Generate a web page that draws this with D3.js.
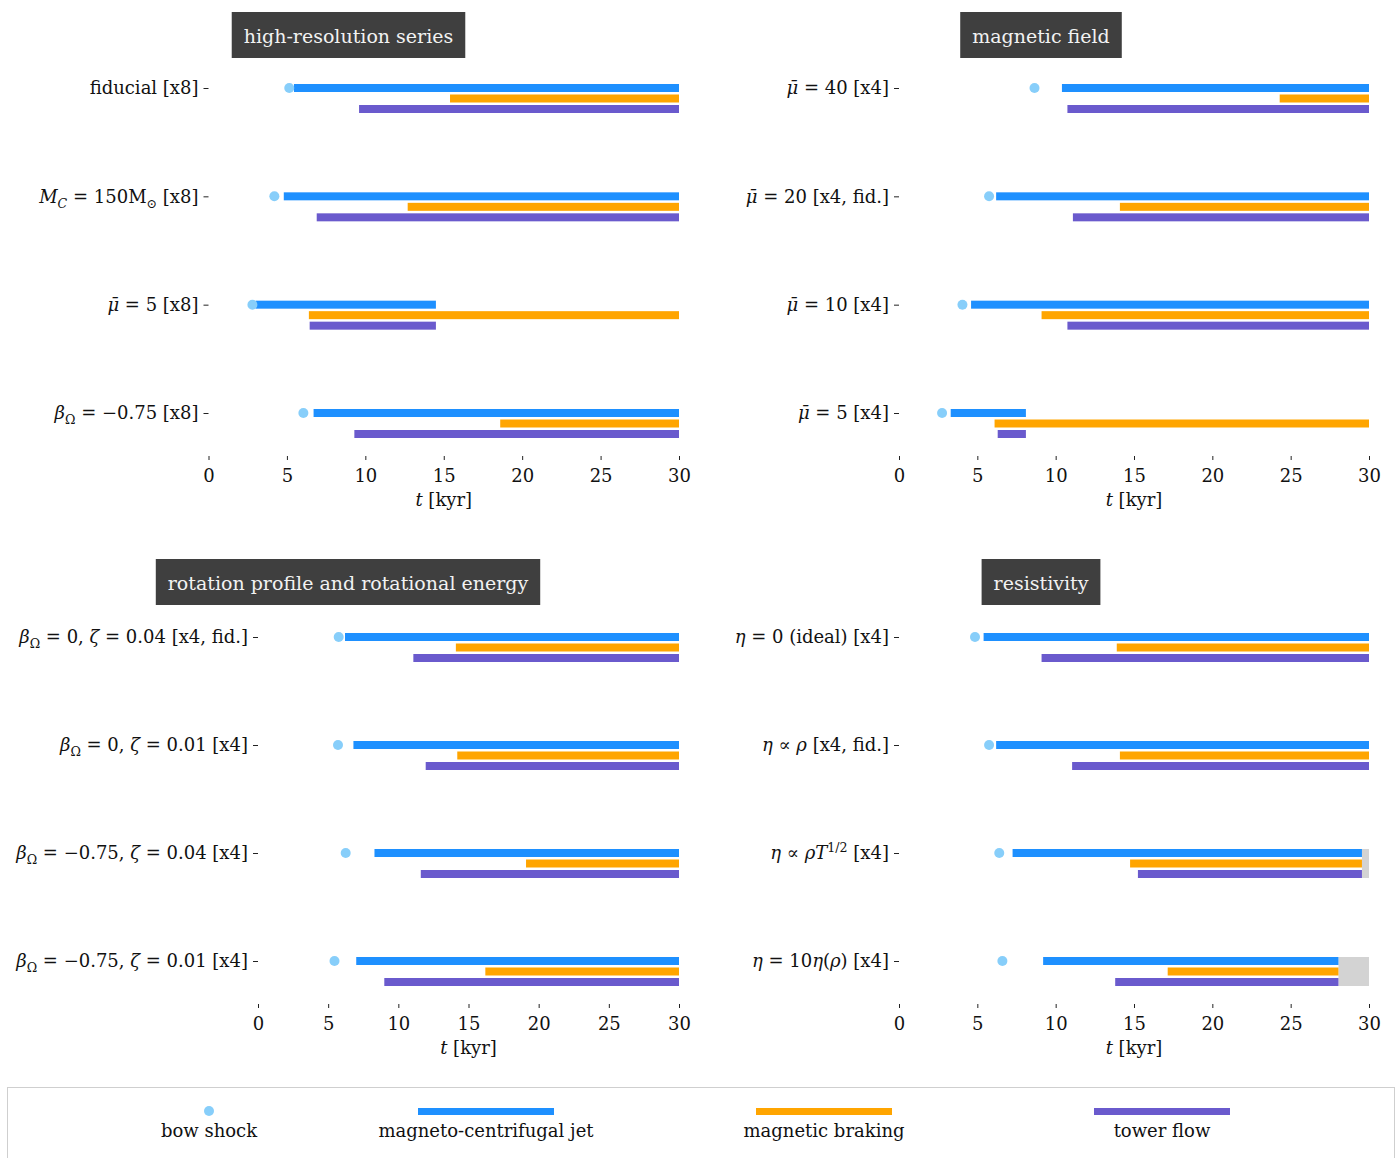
<!DOCTYPE html>
<html>
<head>
<meta charset="utf-8">
<script src="https://cdn.jsdelivr.net/npm/d3@7"></script>
<style>
  html, body { margin: 0; padding: 0; background: #fff; }
  svg { display: block; font-family: "DejaVu Serif", serif; }
</style>
</head>
<body>
<svg id="chart" width="1397" height="1158"></svg>
<script>
// ---- data -------------------------------------------------------------
const tickValues = [0, 5, 10, 15, 20, 25, 30];

const panelTitles = [
  "high-resolution series",
  "magnetic field",
  "rotation profile and rotational energy",
  "resistivity"
];

// run labels; *...* = italic, _{...} = subscript, ^{...} = superscript
const runLabels = [
  ["fiducial [x8]", "*M*_{*C*} = 150M_{⊙} [x8]", "*μ̄* = 5 [x8]", "*β*_{Ω} = −0.75 [x8]"],
  ["*μ̄* = 40 [x4]", "*μ̄* = 20 [x4, fid.]", "*μ̄* = 10 [x4]", "*μ̄* = 5 [x4]"],
  ["*β*_{Ω} = 0, *ζ* = 0.04 [x4, fid.]", "*β*_{Ω} = 0, *ζ* = 0.01 [x4]",
   "*β*_{Ω} = −0.75, *ζ* = 0.04 [x4]", "*β*_{Ω} = −0.75, *ζ* = 0.01 [x4]"],
  ["*η* = 0 (ideal) [x4]", "*η* ∝ *ρ* [x4, fid.]", "*η* ∝ *ρT*^{1/2} [x4]", "*η* = 10*η*(*ρ*) [x4]"]
];

// times in kyr
const bowShock      = [[5.15, 4.2, 2.8, 6.05], [8.65, 5.75, 4.05, 2.75], [5.75, 5.7, 6.25, 5.45], [4.85, 5.75, 6.4, 6.6]];
const jetStart      = [[5.45, 4.8, 3.0, 6.7],  [10.4, 6.2, 4.6, 3.3],    [6.2, 6.8, 8.3, 7.0],    [5.4, 6.2, 7.25, 9.2]];
const jetEnd        = [[30, 30, 14.5, 30],     [30, 30, 30, 8.1],        [30, 30, 30, 30],        [30, 30, 29.55, 28.05]];
const brakingStart  = [[15.4, 12.7, 6.4, 18.6],[24.3, 14.1, 9.1, 6.1],   [14.1, 14.2, 19.1, 16.2],[13.9, 14.1, 14.75, 17.15]];
const brakingEnd    = [[30, 30, 30, 30],       [30, 30, 30, 30],         [30, 30, 30, 30],        [30, 30, 29.55, 28.05]];
const towerStart    = [[9.6, 6.9, 6.45, 9.3],  [10.75, 11.1, 10.75, 6.3],[11.07, 11.95, 11.6, 9.0],[9.1, 11.05, 15.25, 13.8]];
const towerEnd      = [[30, 30, 14.5, 30],     [30, 30, 30, 8.1],        [30, 30, 30, 30],        [30, 30, 29.55, 28.05]];
const simulationEnd = [[30, 30, 30, 30],       [30, 30, 30, 30],         [30, 30, 30, 30],        [30, 30, 29.55, 28.05]];
const tMax = 30;

const seriesNames = ["bow shock", "magneto-centrifugal jet", "magnetic braking", "tower flow"];
const seriesColors = ["#87CEFA", "#1E90FF", "#FFA500", "#6A5ACD"];

// ---- layout -----------------------------------------------------------
const panels = [
  { x0: 208.5, x1: 679,  yTop: 88,  yBot: 413, axisY: 456,  titleCx: 348.5, titleY: 12 },
  { x0: 899,   x1: 1369, yTop: 88,  yBot: 413, axisY: 456,  titleCx: 1041,  titleY: 12 },
  { x0: 258,   x1: 679,  yTop: 637, yBot: 961, axisY: 1004, titleCx: 348,   titleY: 559 },
  { x0: 899,   x1: 1369, yTop: 637, yBot: 961, axisY: 1004, titleCx: 1041,  titleY: 559 }
];
const barH = 8;
const subOffset = d3.scalePoint().domain(["jet", "braking", "tower"]).range([0, 21]);

const svg = d3.select("#chart");

// rich label renderer
function richText(sel, str, baseSize) {
  sel.text(null);
  const re = /(_\{|\^\{|\}|\*)/g;
  let italic = false, shift = 0, small = false;
  let pending = 0; // dy to apply on next tspan
  let last = 0, m;
  const tokens = [];
  while ((m = re.exec(str)) !== null) {
    if (m.index > last) tokens.push({ t: "txt", v: str.slice(last, m.index) });
    tokens.push({ t: m[0] });
    last = re.lastIndex;
  }
  if (last < str.length) tokens.push({ t: "txt", v: str.slice(last) });
  const stack = [];
  tokens.forEach(tk => {
    if (tk.t === "*") { italic = !italic; return; }
    if (tk.t === "_{") { stack.push(5); pending += 5; small = true; return; }
    if (tk.t === "^{") { stack.push(-7); pending += -7; small = true; return; }
    if (tk.t === "}") { const s = stack.pop(); pending -= s; small = stack.length > 0; return; }
    const ts = sel.append("tspan").text(tk.v);
    if (italic) ts.attr("font-style", "italic");
    if (small) ts.attr("font-size", baseSize * 0.7);
    if (pending !== 0) { ts.attr("dy", pending); pending = 0; }
  });
  if (pending !== 0) sel.append("tspan").attr("dy", pending).text("");
}

panels.forEach((p, i) => {
  const x = d3.scaleLinear().domain([0, tMax]).range([p.x0, p.x1]);
  const rows = d3.range(runLabels[i].length);
  const y = d3.scalePoint().domain(rows).range([p.yTop, p.yBot]);
  const g = svg.append("g");

  // end-of-run shading
  g.selectAll("rect.end").data(rows.filter(r => simulationEnd[i][r] < tMax)).join("rect")
    .attr("x", r => x(simulationEnd[i][r]))
    .attr("width", r => x(tMax) - x(simulationEnd[i][r]))
    .attr("y", r => y(r) - barH / 2)
    .attr("height", subOffset("tower") + barH)
    .attr("fill", "#D3D3D3");

  const bars = [
    { key: "jet",     s: jetStart[i],     e: jetEnd[i],     c: seriesColors[1] },
    { key: "braking", s: brakingStart[i], e: brakingEnd[i], c: seriesColors[2] },
    { key: "tower",   s: towerStart[i],   e: towerEnd[i],   c: seriesColors[3] }
  ];
  bars.forEach(b => {
    g.selectAll(null).data(rows).join("rect")
      .attr("x", r => x(b.s[r]))
      .attr("width", r => x(b.e[r]) - x(b.s[r]))
      .attr("y", r => y(r) + subOffset(b.key) - barH / 2)
      .attr("height", barH)
      .attr("fill", b.c);
  });

  g.selectAll(null).data(rows).join("circle")
    .attr("cx", r => x(bowShock[i][r]))
    .attr("cy", r => y(r))
    .attr("r", 5)
    .attr("fill", seriesColors[0]);

  // y axis
  const ya = svg.append("g").attr("transform", `translate(${p.x0},0)`)
    .call(d3.axisLeft(y).tickSize(5).tickPadding(5).tickFormat(() => ""));
  ya.select(".domain").remove();
  ya.selectAll(".tick line").attr("stroke", "#222");
  ya.selectAll(".tick text")
    .attr("font-size", 18).attr("font-family", "DejaVu Serif").attr("fill", "#111")
    .each(function (r) { richText(d3.select(this), runLabels[i][r], 18); });

  // x axis
  const xa = svg.append("g").attr("transform", `translate(0,${p.axisY})`)
    .call(d3.axisBottom(x).tickValues(tickValues).tickSize(4).tickPadding(9));
  xa.select(".domain").remove();
  xa.selectAll(".tick line").attr("stroke", "#222");
  xa.selectAll(".tick text").attr("font-size", 18).attr("font-family", "DejaVu Serif").attr("fill", "#111");

  const xl = svg.append("text")
    .attr("x", (p.x0 + p.x1) / 2).attr("y", p.axisY + 50)
    .attr("text-anchor", "middle").attr("font-size", 18).attr("fill", "#111");
  richText(xl, "*t* [kyr]", 18);

  // panel title
  const tg = svg.append("g");
  const tr = tg.append("rect").attr("fill", "#3F3F3F");
  const tt = tg.append("text")
    .attr("x", p.titleCx).attr("y", p.titleY + 31)
    .attr("text-anchor", "middle").attr("font-size", 19).attr("fill", "#F2F2F2")
    .text(panelTitles[i]);
  const w = tt.node().getComputedTextLength();
  tr.attr("x", p.titleCx - w / 2 - 12).attr("y", p.titleY)
    .attr("width", w + 24).attr("height", 46);
});

// ---- legend -----------------------------------------------------------
const lg = svg.append("g");
lg.append("rect").attr("x", 7.5).attr("y", 1087.5).attr("width", 1387).attr("height", 90)
  .attr("fill", "#fff").attr("stroke", "#cfcfcf");
const legendCx = [209, 486, 824, 1162];
seriesNames.forEach((name, k) => {
  if (k === 0) {
    lg.append("circle").attr("cx", legendCx[k]).attr("cy", 1111).attr("r", 5).attr("fill", seriesColors[k]);
  } else {
    lg.append("rect").attr("x", legendCx[k] - 68).attr("y", 1108).attr("width", 136).attr("height", 7)
      .attr("fill", seriesColors[k]);
  }
  lg.append("text").attr("x", legendCx[k]).attr("y", 1137).attr("text-anchor", "middle")
    .attr("font-size", 18).attr("fill", "#111").text(name);
});
</script>
</body>
</html>
